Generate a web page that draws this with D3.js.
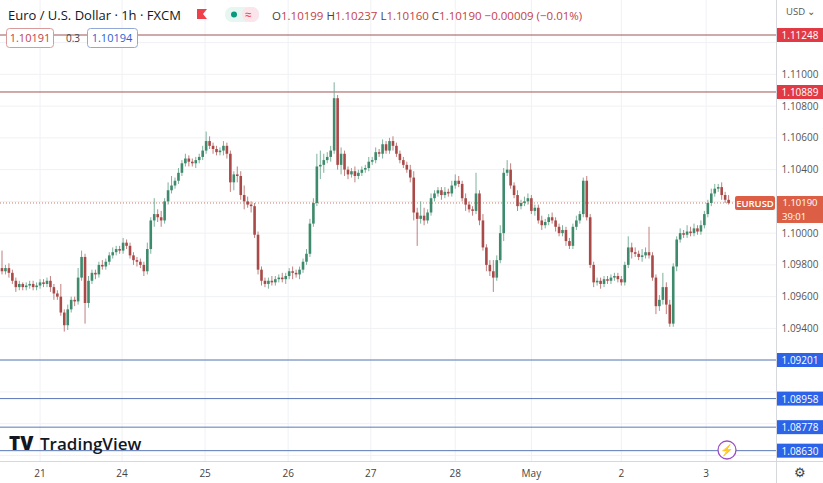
<!DOCTYPE html>
<html><head><meta charset="utf-8">
<script src="https://cdn.jsdelivr.net/npm/d3@7"></script>
<style>body{margin:0;background:#fff;font-family:"Open Sans",Arial,sans-serif}</style>
</head><body><div id="chart"></div>
<script>
const W = 823, H = 483, PLOT_R = 776, PLOT_B = 461

// closes in pips above 1.09000, one per 1h candle
const firstOpen = 78
const closes = [76,78,75,70,66,68,66,67,68,66,67,69,68,70,66,62,60,50,42,52,58,57,72,85,56,70,75,74,80,79,82,86,88,90,89,94,92,86,83,82,80,76,90,108,112,110,108,120,127,130,133,138,144,147,145,144,146,148,152,158,155,153,151,152,155,150,132,137,136,124,120,118,117,99,77,70,68,70,69,71,72,71,73,76,75,74,77,82,87,106,119,142,143,146,148,152,185,143,150,140,137,139,136,138,140,141,145,146,151,150,156,152,158,155,150,146,143,140,135,113,109,111,108,113,122,125,127,124,126,125,130,133,131,122,118,115,114,125,108,91,80,76,72,83,100,138,140,130,124,117,119,120,122,114,116,108,105,107,110,108,104,100,102,95,92,104,108,112,133,110,80,69,70,68,71,70,72,73,71,69,80,91,88,87,85,86,88,86,72,54,58,66,55,43,79,96,100,99,101,100,103,101,105,112,119,125,128,129,124,121,119]
const wickUp = [11,2,3,2,2,2,1,2,2,2, 2,2,2,2,3,2,2,8,2,3, 2,2,6,4,2,3,2,2,2,3, 2,2,3,2,2,3,2,2,2,2, 2,2,4,2,10,3,4,2,5,6, 2,3,2,3,2,2,2,2,3,6, 3,2,2,2,3,2,2,2,5,3, 6,3,2,2,2,2,2,2,3,2, 2,3,2,2,3,2,2,2,3,3, 3,8,9,4,3,3,10,2,4,2, 2,2,3,2,2,2,3,2,3,2, 3,2,2,3,2,2,2,2,3,4, 3,9,5,2,3,2,2,2,3,2, 3,4,3,2,3,2,2,13,2,4, 2,3,7,3,5,3,6,4,2,3, 2,3,3,2,2,2,3,2,2,3, 2,2,3,2,2,2,3,2,2,3, 2,2,2,2,2,2,2,2,2,2, 2,7,3,3,2,4,3,16,2,2, 3,9,3,3,2,2,3,2,4,3, 3,2,3,2,2,3,3,2,3,2,3]
const wickDn = [2,2,3,2,3,2,2,2,2,2, 2,2,2,2,3,4,2,2,4,3, 2,3,2,2,13,3,2,3,2,2, 2,2,2,2,2,2,2,2,3,3, 2,3,2,3,4,3,4,2,2,2, 2,2,2,2,3,2,3,2,2,2, 2,3,2,2,3,3,6,5,4,3, 5,2,4,2,3,3,2,3,2,2, 2,2,3,2,4,2,3,2,2,2, 2,2,8,5,2,3,2,3,6,4, 3,2,4,2,2,2,2,2,2,2, 3,2,2,3,2,2,2,2,3,5, 17,3,3,2,2,2,2,3,2,2, 2,2,2,2,4,2,3,2,3,2, 4,3,9,2,2,5,2,2,2,3, 2,2,2,2,3,2,3,2,2,2, 3,2,2,3,2,2,2,2,2,2, 2,3,2,3,2,2,2,2,2,2, 2,2,4,2,2,3,2,2,2,5, 3,3,6,2,2,3,2,2,2,2, 2,2,2,2,2,2,2,2,3,2,1]

const dayLabels = ['21','24','25','26','27','28','May','2','3']
const dayIndex = [11,34.7,58.7,82.7,106.6,131,153,179,203.5]
const priceTicks = [1.086,1.088,1.090,1.092,1.094,1.096,1.098,1.100,1.102,1.104,1.106,1.108,1.110,1.112]
const redLevels = [1.11248,1.10889]
const blueLevels = [1.09201,1.08958,1.08778,1.08630]
const lastPrice = 1.10190

const candles = closes.map((c, i) => {
  const o = i === 0 ? firstOpen : closes[i - 1]
  return { i, o: 1.09 + o / 10000, c: 1.09 + c / 10000,
    h: 1.09 + (Math.max(o, c) + wickUp[i]) / 10000,
    l: 1.09 + (Math.min(o, c) - wickDn[i]) / 10000 }
})

const x = d3.scaleLinear().domain([0, 1]).range([2, 5.46])
const y = d3.scaleLinear().domain([1.11248, 1.09201]).range([35, 360])

const svg = d3.select('#chart').append('svg').attr('width', W).attr('height', H)
  .style('font-family', '"Open Sans",Arial,sans-serif')

// grid
svg.selectAll('.hg').data(priceTicks).join('line')
  .attr('x1', 0).attr('x2', PLOT_R).attr('y1', d => y(d)).attr('y2', d => y(d))
  .attr('stroke', '#f0f1f4')
svg.selectAll('.vg').data(dayIndex).join('line')
  .attr('x1', d => x(d)).attr('x2', d => x(d)).attr('y1', 0).attr('y2', PLOT_B)
  .attr('stroke', '#f0f1f4')

// horizontal levels
svg.selectAll('.rl').data(redLevels).join('line')
  .attr('x1', 0).attr('x2', PLOT_R).attr('y1', d => y(d)).attr('y2', d => y(d))
  .attr('stroke', '#9e5555').attr('stroke-width', 1)
svg.selectAll('.bl').data(blueLevels).join('line')
  .attr('x1', 0).attr('x2', PLOT_R).attr('y1', d => y(d)).attr('y2', d => y(d))
  .attr('stroke', '#5a78b8').attr('stroke-width', 1)

// last price dotted
svg.append('line').attr('x1', 0).attr('x2', PLOT_R).attr('y1', y(lastPrice)).attr('y2', y(lastPrice))
  .attr('stroke', '#c9765f').attr('stroke-dasharray', '1,2')

// candles
const up = '#3e8a6c', dn = '#a94a48'
const g = svg.append('g')
g.selectAll('.wick').data(candles).join('line')
  .attr('x1', d => x(d.i)).attr('x2', d => x(d.i))
  .attr('y1', d => y(d.h)).attr('y2', d => y(d.l))
  .attr('stroke', d => d.c >= d.o ? '#6fa890' : '#b87270').attr('stroke-width', 0.9)
g.selectAll('.body').data(candles).join('rect')
  .attr('x', d => x(d.i) - 1.3).attr('width', 2.6)
  .attr('y', d => y(Math.max(d.o, d.c)))
  .attr('height', d => Math.max(1, Math.abs(y(d.o) - y(d.c))))
  .attr('fill', d => d.c >= d.o ? up : dn)

// right axis
svg.append('line').attr('x1', PLOT_R + 0.5).attr('x2', PLOT_R + 0.5).attr('y1', 0).attr('y2', H).attr('stroke', '#d6d8de')
svg.append('line').attr('x1', 0).attr('x2', W).attr('y1', PLOT_B + 0.5).attr('y2', PLOT_B + 0.5).attr('stroke', '#d6d8de')
const tagPrices = redLevels.concat(blueLevels, [lastPrice])
const freeTicks = priceTicks.filter(t => tagPrices.every(p => Math.abs(y(t) - y(p)) > 13))
svg.selectAll('.pt').data(freeTicks).join('text')
  .attr('x', 800).attr('y', d => y(d) + 3.5).attr('text-anchor', 'middle')
  .attr('font-size', 10).attr('fill', '#555').text(d => d.toFixed(5))

function tag(p, color, txt) {
  svg.append('rect').attr('x', PLOT_R + 1).attr('y', y(p) - 7).attr('width', 46).attr('height', 14).attr('fill', color)
  svg.append('text').attr('x', 800).attr('y', y(p) + 4).attr('text-anchor', 'middle')
    .attr('font-size', 10).attr('fill', '#fff').text(txt)
}
redLevels.forEach(p => tag(p, '#e23a44', p.toFixed(5)))
blueLevels.forEach(p => tag(p, '#2c63e8', p.toFixed(5)))

// last price label
svg.append('rect').attr('x', PLOT_R + 1).attr('y', y(lastPrice) - 7).attr('width', 46).attr('height', 27).attr('fill', '#dc5f45')
svg.append('text').attr('x', 800).attr('y', y(lastPrice) + 3).attr('text-anchor', 'middle').attr('font-size', 9.5).attr('fill', '#fff').text(lastPrice.toFixed(5))
svg.append('text').attr('x', 782).attr('y', y(lastPrice) + 17).attr('font-size', 9.5).attr('fill', '#fff').text('39:01')
svg.append('rect').attr('x', 735).attr('y', y(lastPrice) - 7).attr('width', 40).attr('height', 14).attr('rx', 2).attr('fill', '#dc5f45')
svg.append('text').attr('x', 755).attr('y', y(lastPrice) + 4).attr('text-anchor', 'middle').attr('font-size', 9.5).attr('font-weight', 600).attr('fill', '#fff').text('EURUSD')

// time axis
svg.selectAll('.dl').data(dayLabels).join('text')
  .attr('x', (d, i) => x(dayIndex[i])).attr('y', 477).attr('text-anchor', 'middle')
  .attr('font-size', 10).attr('fill', '#444').text(d => d)

// header
svg.append('text').attr('x', 8).attr('y', 20).attr('font-size', 13).attr('fill', '#131722').text('Euro / U.S. Dollar · 1h · FXCM')
svg.append('path').attr('d', 'M197,9h10l-4,5l4,5h-10z').attr('fill', '#ee3f4a')
svg.append('rect').attr('x', 225).attr('y', 7).attr('width', 34).attr('height', 15).attr('rx', 7).attr('fill', '#e7f6f1')
svg.append('rect').attr('x', 242).attr('y', 7).attr('width', 17).attr('height', 15).attr('rx', 7).attr('fill', '#fbe5ea')
svg.append('circle').attr('cx', 234).attr('cy', 14.5).attr('r', 3).attr('fill', '#089981')
svg.append('text').attr('x', 245).attr('y', 19).attr('font-size', 12).attr('fill', '#f23645').text('≈')
const ohlc = svg.append('text').attr('x', 272).attr('y', 20).attr('font-size', 11.5)
;[['O', '1.10199'], ['H', '1.10237'], ['L', '1.10160'], ['C', '1.10190']].forEach(([k, v]) => {
  ohlc.append('tspan').attr('fill', '#444').text(k)
  ohlc.append('tspan').attr('fill', '#c4414a').text(v + ' ')
})
ohlc.append('tspan').attr('fill', '#c4414a').text('−0.00009 (−0.01%)')

svg.append('rect').attr('x', 6.5).attr('y', 28.5).attr('width', 47).attr('height', 19).attr('rx', 3).attr('fill', '#fff').attr('stroke', '#d99a9a')
svg.append('text').attr('x', 30).attr('y', 42).attr('text-anchor', 'middle').attr('font-size', 11).attr('fill', '#c4414a').text('1.10191')
svg.append('text').attr('x', 66).attr('y', 42).attr('font-size', 10).attr('fill', '#444').text('0.3')
svg.append('rect').attr('x', 87.5).attr('y', 28.5).attr('width', 50).attr('height', 19).attr('rx', 3).attr('fill', '#fff').attr('stroke', '#93a8d6')
svg.append('text').attr('x', 112).attr('y', 42).attr('text-anchor', 'middle').attr('font-size', 11).attr('fill', '#2c5fcf').text('1.10194')

svg.append('text').attr('x', 786).attr('y', 15).attr('font-size', 9.5).attr('fill', '#555').text('USD ⌄')

// logo
svg.append('text').attr('x', 9).attr('y', 450).attr('font-size', 19).attr('font-weight', 800).attr('fill', '#131722').text('TV')
svg.append('text').attr('x', 40).attr('y', 450).attr('font-size', 17).attr('font-weight', 600).attr('fill', '#131722').text('TradingView')
svg.append('circle').attr('cx', 727).attr('cy', 450).attr('r', 9).attr('fill', '#fff').attr('stroke', '#9b4fc7').attr('stroke-width', 1.3)
svg.append('text').attr('x', 727).attr('y', 454).attr('text-anchor', 'middle').attr('font-size', 11).attr('fill', '#9b4fc7').text('⚡')
svg.append('text').attr('x', 800).attr('y', 477).attr('text-anchor', 'middle').attr('font-size', 13).attr('fill', '#444').text('⚙')
</script></body></html>
